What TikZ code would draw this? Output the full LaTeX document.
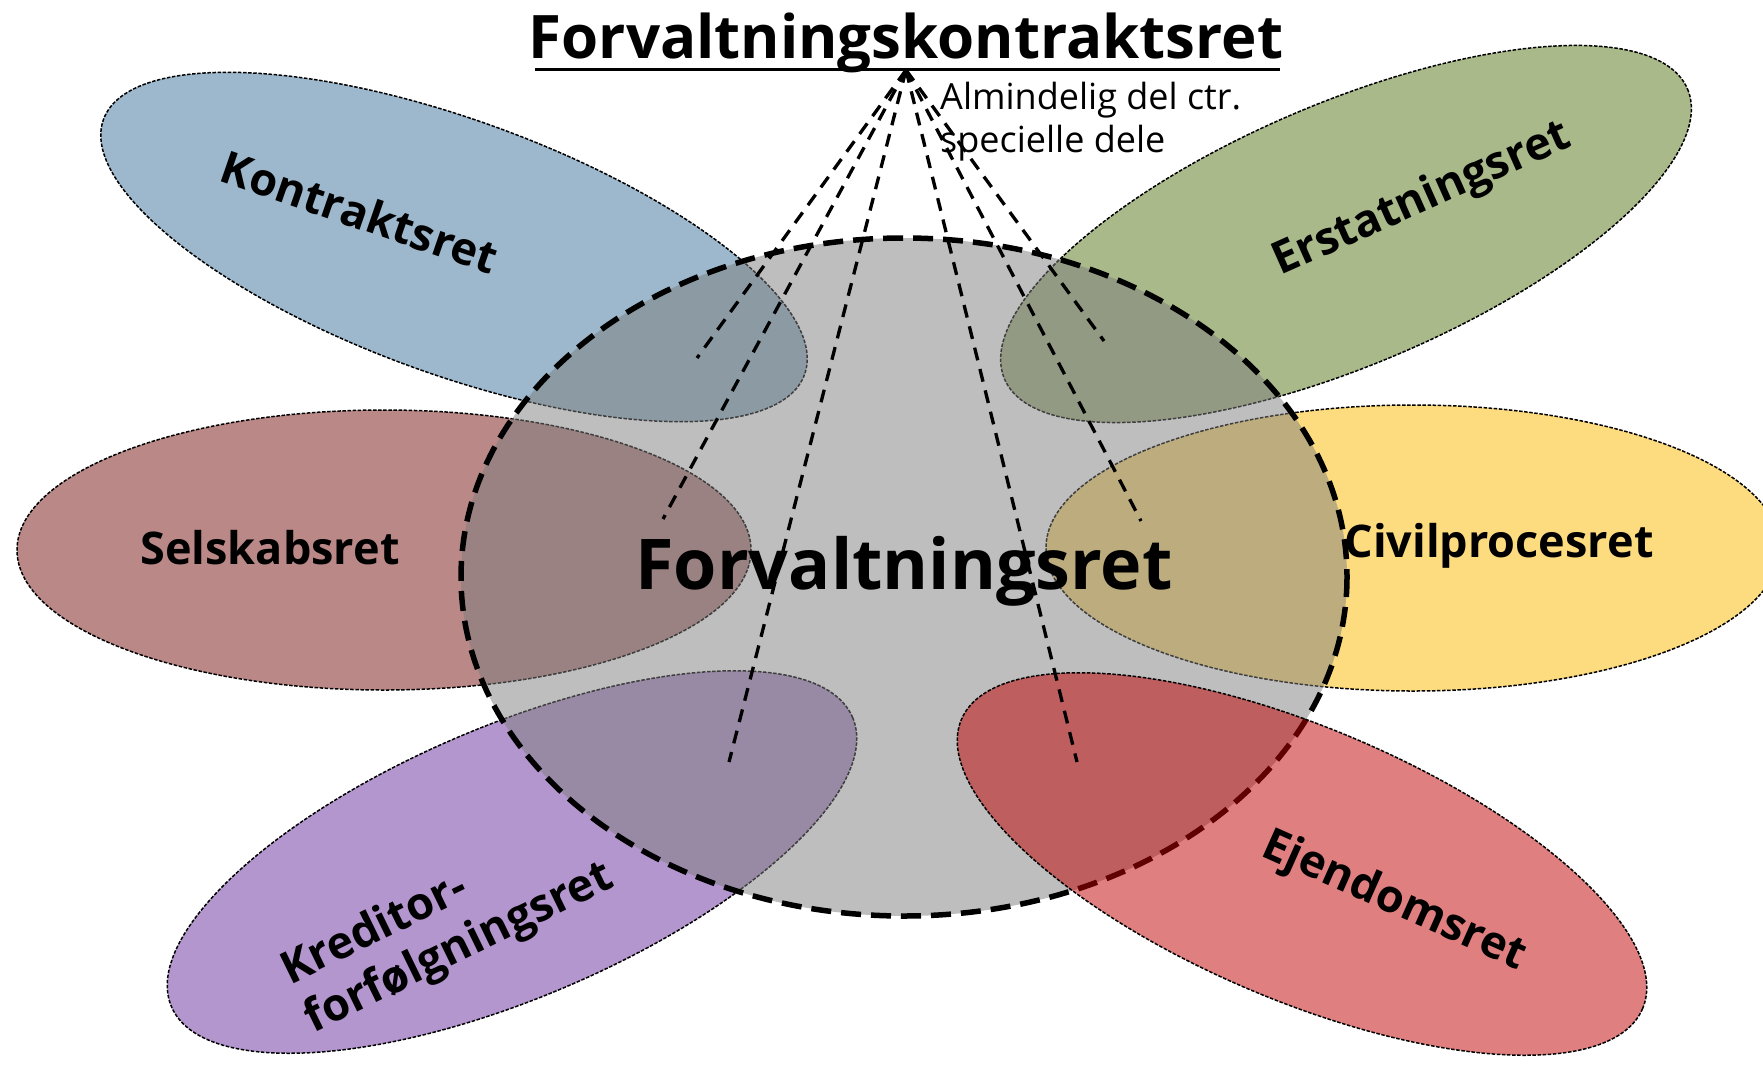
\documentclass[tikz,border=0pt]{standalone}
\usepackage{fontspec}
\setmainfont{Open Sans}
\definecolor{cBlue}{RGB}{157,184,205}
\definecolor{cGreen}{RGB}{169,185,138}
\definecolor{cBrown}{RGB}{187,136,136}
\definecolor{cYellow}{RGB}{253,220,128}
\definecolor{cPurple}{RGB}{180,150,207}
\definecolor{cRed}{RGB}{192,0,0}
\definecolor{cGray}{RGB}{125,125,125}
\tikzset{
  petal/.style={draw=black, line width=1.5pt, dash pattern=on 3.5pt off 1.6pt},
  core/.style={draw=black, line width=5.5pt, dash pattern=on 20pt off 10pt, fill=cGray, fill opacity=0.5, draw opacity=1},
  ray/.style={draw=black, line width=3.3pt, dash pattern=on 13pt off 9pt},
  lab/.style={font=\fontsize{45}{54}\selectfont\bfseries, inner sep=0pt},
}
\begin{document}
\begin{tikzpicture}[x=1pt,y=-1pt]
\useasboundingbox (0,0) rectangle (1763,1071);
\begin{scope}
\clip (0,0) rectangle (1763,1071);
% petals drawn under the core
\path[petal, fill=cBlue, rotate around={-20:(454,247)}] (454,247) ellipse [x radius=373, y radius=127];
\path[petal, fill=cGreen, rotate around={23:(1346,234)}] (1346,234) ellipse [x radius=371, y radius=131];
\path[petal, fill=cBrown] (384,550) ellipse [x radius=367, y radius=140];
\path[petal, fill=cYellow] (1413,548) ellipse [x radius=367, y radius=143];
\path[petal, fill=cPurple, rotate around={23:(512,862)}] (512,862) ellipse [x radius=370, y radius=136];
% core
\path[core] (904,577) ellipse [x radius=443, y radius=339];
% red petal on top
\path[petal, fill=cRed, fill opacity=0.5, draw opacity=1, rotate around={-23:(1302,864)}] (1302,864) ellipse [x radius=370, y radius=136];
\end{scope}

% title
\node[font=\fontsize{60}{62}\selectfont\bfseries, inner sep=0pt, anchor=base] (title) at (906,58) {Forvaltningskontraktsret};
\draw[line width=3pt] (535,69) -- (1280,69);
\node[font=\fontsize{36}{43}\selectfont, align=left, anchor=north west, inner sep=0pt] (note) at (940,82) {Almindelig del ctr.\\specielle dele};

% rays
\coordinate (apex) at (906,70);
\coordinate (e1) at (697,358);
\coordinate (e2) at (663,519);
\coordinate (e3) at (729,762);
\coordinate (e4) at (1077,762);
\coordinate (e5) at (1141,521);
\coordinate (e6) at (1104,341);
\foreach \e in {e1,e2,e3,e4,e5,e6} \draw[ray] (apex) -- (\e);

% labels
\node[lab, rotate=-19] (kontrakt) at (360,212) {Kontraktsret};
\node[lab, rotate=24] (erstat) at (1422,200) {Erstatningsret};
\node[lab] (selskab) at (270,548) {Selskabsret};
\node[lab] (civil) at (1499,546) {Civilprocesret};
\node[lab, rotate=-24] (ejendom) at (1394,902) {Ejendomsret};
\node[lab, rotate=26, align=left] (kredit) at (448,925) {Kreditor-\\forfølgningsret};
\node[font=\fontsize{70}{78}\selectfont\bfseries, inner sep=0pt] (center) at (904,571) {Forvaltningsret};
\end{tikzpicture}
\end{document}
